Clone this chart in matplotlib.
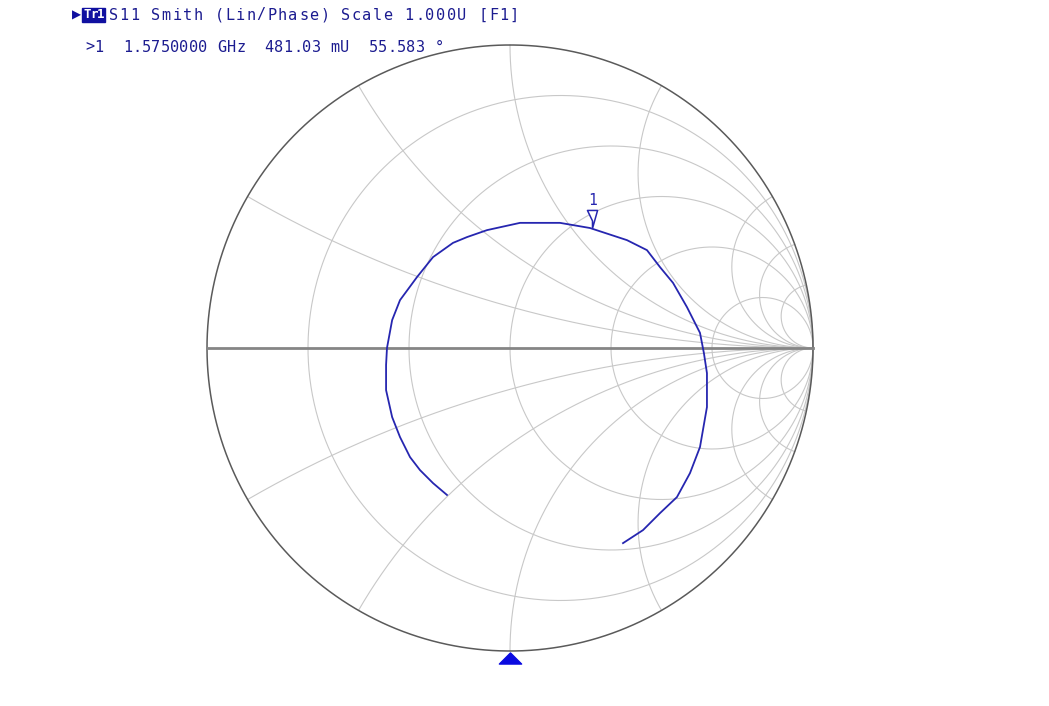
import numpy as np
import matplotlib.pyplot as plt
from matplotlib.path import Path

# grid: constant resistance circles and reactance arcs (by angle where they meet the rim)
R_VALUES = [0.2, 0.5, 1.0, 2.0, 5.0]
X_RIM_ANGLES = [150, 120, 90, 60, 30, 20, 12]

TRACE_RE = [-0.208, -0.254, -0.297, -0.330, -0.363, -0.389, -0.409, -0.409, -0.406,
            -0.389, -0.363, -0.307, -0.254, -0.188, -0.142, -0.076, 0.033, 0.165,
            0.264, 0.386, 0.452, 0.495, 0.538, 0.584, 0.627, 0.640, 0.650, 0.650,
            0.627, 0.594, 0.551, 0.495, 0.439, 0.373]
TRACE_IM = [-0.485, -0.446, -0.403, -0.360, -0.294, -0.228, -0.139, -0.056, 0.000,
            0.092, 0.158, 0.234, 0.300, 0.347, 0.366, 0.389, 0.413, 0.413,
            0.396, 0.356, 0.323, 0.267, 0.215, 0.135, 0.050, -0.017, -0.083, -0.195,
            -0.327, -0.413, -0.492, -0.545, -0.601, -0.644]

MARKER_MAG = 0.48103
MARKER_PHASE = 55.583

HEADER = "S11 Smith (Lin/Phase) Scale 1.000U [F1]"
MARKER_LINE = ">1  1.5750000 GHz  481.03 mU  55.583 \u00b0"

GRID = "#c8c8c8"
TRACE = "#2626b0"
TEXT = "#1c1c90"

W, H = 1049, 706
CX, CY, RAD = 510, 348, 303

fig = plt.figure(figsize=(W / 100, H / 100), dpi=100)
ax = fig.add_axes([0, 0, 1, 1])
ax.set_xlim(-CX / RAD, (W - CX) / RAD)
ax.set_ylim((CY - H) / RAD, CY / RAD)
ax.axis("off")


def gamma(z):
    return (z - 1) / (z + 1)


t = np.linspace(-np.pi / 2 + 1e-4, np.pi / 2 - 1e-4, 800)
for r in R_VALUES:
    g = gamma(r + 1j * np.tan(t))
    ax.plot(g.real, g.imag, color=GRID, lw=0.8, zorder=1)

s = np.linspace(0, np.pi / 2 - 1e-4, 600)
for ang in X_RIM_ANGLES:
    x = np.tan(np.radians(180 - ang) / 2)
    for sign in (1, -1):
        g = gamma(np.tan(s) + 1j * sign * x)
        ax.plot(g.real, g.imag, color=GRID, lw=0.8, zorder=1)

phi = np.linspace(0, 2 * np.pi, 1000)
ax.plot(np.cos(phi), np.sin(phi), color="#5a5a5a", lw=1.1, zorder=2)
ax.plot([-1, 1], [0, 0], color="#858585", lw=2.0, zorder=2)

ax.plot(TRACE_RE, TRACE_IM, color=TRACE, lw=1.3, zorder=4)

# marker 1
mx = MARKER_MAG * np.cos(np.radians(MARKER_PHASE))
my = MARKER_MAG * np.sin(np.radians(MARKER_PHASE))
mk = Path([(0, 0), (0, 0.42), (-0.28, 1.0), (0.28, 1.0), (0, 0.42)],
          [Path.MOVETO, Path.LINETO, Path.LINETO, Path.LINETO, Path.CLOSEPOLY])
ax.plot(mx, my, marker=mk, ms=26, mfc="white", mec=TRACE, mew=1.1, zorder=5)
ax.annotate("1", (mx, my), xytext=(0, 14), textcoords="offset points",
            ha="center", va="bottom", color=TRACE, fontsize=10.5,
            family="DejaVu Sans Mono", zorder=6)

# stimulus marker under the chart
tri = Path([(0, 0.5), (-1, -0.5), (1, -0.5), (0, 0.5)],
           [Path.MOVETO, Path.LINETO, Path.LINETO, Path.CLOSEPOLY])
ax.plot(0, -1.023, marker=tri, ms=16, color="#0a0ae0", mec="#0a0ae0", zorder=5)


def mono_text(x0, y0, text, adv, **kw):
    for i, ch in enumerate(text):
        if ch != " ":
            fig.text((x0 + i * adv) / W, 1 - y0 / H, ch, ha="left", va="center",
                     family="DejaVu Sans Mono", **kw)


fig.text(72 / W, 1 - 15 / H, "\u25b6", ha="left", va="center", fontsize=8.5,
         color="#1010a0", family="DejaVu Sans")
fig.patches.append(plt.Rectangle((82 / W, 1 - 22 / H), 23 / W, 14 / H,
                                 transform=fig.transFigure, color="#1010a0"))
mono_text(83, 15, "Tr1", 6.9, fontsize=9, color="white", fontweight="bold")
mono_text(109, 15, HEADER, 10.55, fontsize=11, color=TEXT)
mono_text(85, 47, MARKER_LINE, 9.45, fontsize=11, color=TEXT)

fig.savefig("out.png", dpi=100)
